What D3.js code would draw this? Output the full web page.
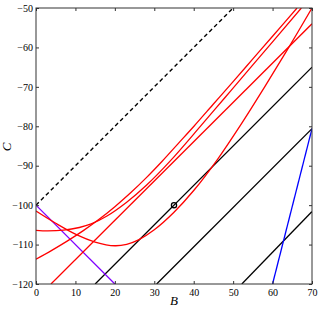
<!DOCTYPE html>
<html>
<head>
<meta charset="utf-8">
<script src="https://cdn.jsdelivr.net/npm/d3@7"></script>
<style>
  body { margin: 0; background: #fff; }
  .axis text { font-family: 'Liberation Serif', 'Times New Roman', serif; font-size: 10px; fill: #000; }
  .axis line { stroke: #333; }
  .axis path { display: none; }
</style>
</head>
<body>
<div class="chart"></div>
<script>
// data (B, C)
const xTicks = [0, 10, 20, 30, 40, 50, 60, 70];
const yTicks = [-120, -110, -100, -90, -80, -70, -60, -50];

const redA = [[0, -113.7], [4, -111.46], [8, -109.06], [12, -106.46], [16, -103.58], [20, -100.38],
  [24, -96.86], [28, -93.02], [32, -88.86], [36, -84.46], [40, -80.06], [45, -74.36], [50, -68.66],
  [55, -62.91], [60, -57.16], [66.2, -50]];
const redB = [[0, -106.4], [3, -106.55], [7, -106.35], [11, -105.67], [14, -104.77], [18, -102.77],
  [23, -99.27], [28, -94.97], [34, -88.85], [42, -79.65], [48, -72.63], [55, -64.44], [67.3, -50]];
const redC = [[0, -101.5], [5, -104.6], [10, -107.35], [15, -109.35], [20, -110.3], [23, -109.93],
  [26, -108.8], [30, -106.24], [35, -101.79], [40, -96.29], [46, -88.43], [52, -79.52], [58, -70.01],
  [64, -60.17], [70, -50]];
const redD = [[3.8, -120], [70, -54]];

const blackLines = [
  [[15, -120], [70, -65]],
  [[30.6, -120], [70, -80.6]],
  [[52.2, -120], [70, -101.6]]
];
const dashed = [[0, -100], [50, -50]];
const purple = [[0, -100], [20, -120]];
const blue = [[60, -120], [70, -80.6]];
const marker = [35, -100];

const svg = d3.select('.chart').append('svg').attr('width', 320).attr('height', 310);

const xScale = d3.scaleLinear().domain([0, 70]).range([36, 312]);
const yScale = d3.scaleLinear().domain([-120, -50]).range([284, 8]);

svg.append('clipPath').attr('id', 'clip')
  .append('rect').attr('x', 36).attr('y', 8).attr('width', 276).attr('height', 276);

const plot = svg.append('g').attr('clip-path', 'url(#clip)');

const straight = d3.line().x((d) => xScale(d[0])).y((d) => yScale(d[1]));
const smooth = d3.line().x((d) => xScale(d[0])).y((d) => yScale(d[1])).curve(d3.curveCatmullRom);

plot.append('path').attr('d', straight(dashed)).attr('fill', 'none')
  .attr('stroke', '#000').attr('stroke-width', 1.4).attr('stroke-dasharray', '4,3');

plot.selectAll('.black').data(blackLines).join('path').attr('class', 'black')
  .attr('d', straight).attr('fill', 'none').attr('stroke', '#000').attr('stroke-width', 1.3);

plot.append('path').attr('d', straight(purple)).attr('fill', 'none')
  .attr('stroke', '#8000ff').attr('stroke-width', 1.3);

plot.append('path').attr('d', straight(blue)).attr('fill', 'none')
  .attr('stroke', '#0000ff').attr('stroke-width', 1.3);

plot.selectAll('.red').data([redA, redB, redC]).join('path').attr('class', 'red')
  .attr('d', smooth).attr('fill', 'none').attr('stroke', '#ff0000').attr('stroke-width', 1.3);
plot.append('path').attr('d', straight(redD)).attr('fill', 'none')
  .attr('stroke', '#ff0000').attr('stroke-width', 1.3);

plot.append('circle').attr('cx', xScale(marker[0])).attr('cy', yScale(marker[1])).attr('r', 2.6)
  .attr('fill', 'none').attr('stroke', '#000').attr('stroke-width', 1.3);

// axes, ticks pointing inward on all four sides
svg.append('g').attr('class', 'axis').attr('transform', 'translate(0,284)')
  .call(d3.axisBottom(xScale).tickValues(xTicks).tickSizeInner(-3).tickSizeOuter(0).tickPadding(5));
svg.append('g').attr('class', 'axis').attr('transform', 'translate(36,0)')
  .call(d3.axisLeft(yScale).tickValues(yTicks).tickSizeInner(-3).tickSizeOuter(0).tickPadding(3));
svg.append('g').attr('class', 'axis').attr('transform', 'translate(0,8)')
  .call(d3.axisTop(xScale).tickValues(xTicks).tickSizeInner(-3).tickSizeOuter(0).tickFormat(''));
svg.append('g').attr('class', 'axis').attr('transform', 'translate(312,0)')
  .call(d3.axisRight(yScale).tickValues(yTicks).tickSizeInner(-3).tickSizeOuter(0).tickFormat(''));

svg.append('rect').attr('x', 36).attr('y', 8).attr('width', 276).attr('height', 276)
  .attr('fill', 'none').attr('stroke', '#333').attr('stroke-width', 1);

svg.append('text').attr('x', 174).attr('y', 305).attr('text-anchor', 'middle')
  .style('font-family', "'Liberation Serif', serif").style('font-style', 'italic')
  .style('font-size', '13px').text('B');
svg.append('text').attr('transform', 'translate(11,147) rotate(-90)').attr('text-anchor', 'middle')
  .style('font-family', "'Liberation Serif', serif").style('font-style', 'italic')
  .style('font-size', '13px').text('C');
</script>
</body>
</html>
